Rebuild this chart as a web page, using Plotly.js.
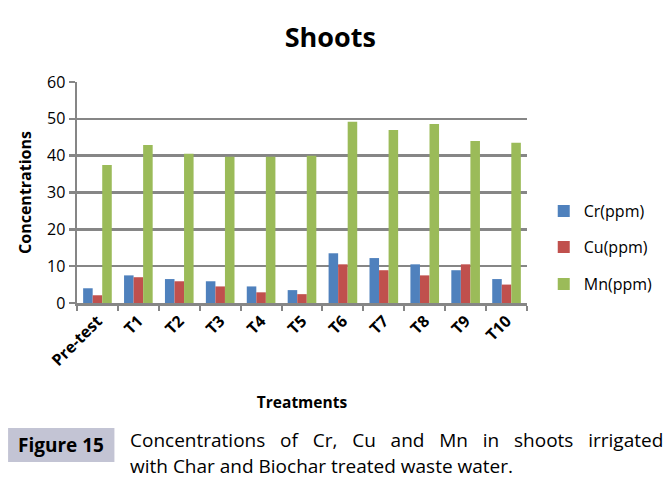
<!DOCTYPE html>
<html>
<head>
<meta charset="utf-8">
<script src="https://cdn.plot.ly/plotly-3.0.1.min.js"></script>
<style>
html,body{margin:0;padding:0;background:#fff;}
#chart{width:670px;height:499px;}
</style>
</head>
<body>
<div id="chart"></div>
<script>
const categories = ["Pre-test","T1","T2","T3","T4","T5","T6","T7","T8","T9","T10"];
const crValues = [4.0, 7.5, 6.5, 5.9, 4.5, 3.5, 13.5, 12.2, 10.5, 8.9, 6.5];
const cuValues = [2.1, 7.0, 5.9, 4.5, 2.9, 2.4, 10.5, 8.9, 7.5, 10.5, 5.0];
const mnValues = [37.5, 42.9, 40.5, 39.7, 39.7, 40.0, 49.2, 47.0, 48.6, 44.0, 43.5];
const seriesNames = ["Cr(ppm)","Cu(ppm)","Mn(ppm)"];
const yTicks = [0,10,20,30,40,50,60];

const font = "Open Sans, DejaVu Sans, sans-serif";
const colors = ["#4f81bd","#c0504d","#9bbb59"];
const vals = [crValues, cuValues, mnValues];
const legendIds = ["legend","legend2","legend3"];
const legendY = [211, 247, 284];

const traces = vals.map((v,i)=>({
  type:"bar", x:categories, y:v, name:seriesNames[i],
  marker:{color:colors[i]}, legend:legendIds[i]
}));

const plotTop = 82, plotH = 221, plotL = 77, plotW = 457;
const py = px => (plotTop + plotH - px) / plotH;
const pxx = px => (px - plotL) / plotW;

const legendFont = {family:font, size:16, color:"#000"};
const layout = {
  width:670, height:499,
  margin:{l:plotL, r:670-plotL-plotW, t:plotTop, b:499-plotTop-plotH},
  paper_bgcolor:"#fff", plot_bgcolor:"#fff",
  barmode:"group", bargap:0.3, bargroupgap:0,
  showlegend:true,
  title:{text:"<b>Shoots</b>", x:0.493, xanchor:"center", y:0.925, yanchor:"middle",
    font:{family:font, size:27, color:"#000"}},
  xaxis:{type:"category", tickangle:-45, showgrid:false, showline:true, linecolor:"#868686", linewidth:2.5,
    ticks:"outside", tickson:"boundaries", ticklen:5, tickcolor:"#868686", tickwidth:2,
    tickfont:{family:font, size:16, color:"#000", weight:"bold"},
    title:{text:"<b>Treatments</b>", font:{family:font, size:15.5, color:"#000"}, standoff:28}},
  yaxis:{range:[0,60], tickvals:yTicks, showgrid:true, gridcolor:"#868686", gridwidth:2.5,
    showline:true, linecolor:"#868686", linewidth:2.5, zeroline:false,
    ticks:"outside", ticklen:6, tickcolor:"#868686", tickwidth:2.5,
    tickfont:{family:font, size:16, color:"#000"},
    title:{text:"<b>Concentrations</b>", font:{family:font, size:16, color:"#000"}, standoff:12}},
  shapes:[{type:"rect", xref:"paper", yref:"paper", x0:pxx(7), x1:pxx(115), y0:py(428), y1:py(462),
    fillcolor:"#c3c4d4", line:{width:0}, layer:"below"}],
  annotations:[
    {xref:"paper", yref:"paper", x:pxx(61), y:py(445), xanchor:"center", yanchor:"middle", showarrow:false,
     text:"<b>Figure 15</b>", font:{family:font, size:19, color:"#000"}},
    {xref:"paper", yref:"paper", x:pxx(129), y:py(440), xanchor:"left", yanchor:"middle", showarrow:false,
     text:"Concentrations   of   Cr,   Cu   and   Mn   in   shoots   irrigated", font:{family:font, size:19, color:"#000"}},
    {xref:"paper", yref:"paper", x:pxx(129), y:py(466), xanchor:"left", yanchor:"middle", showarrow:false,
     text:"with Char and Biochar treated waste water.", font:{family:font, size:19, color:"#000"}}
  ]
};
legendIds.forEach((id,i)=>{
  layout[id] = {x:pxx(551), y:py(legendY[i]), xanchor:"left", yanchor:"middle",
    font:legendFont, bgcolor:"rgba(0,0,0,0)", itemwidth:30};
});

Plotly.newPlot("chart", traces, layout, {displayModeBar:false, staticPlot:true});
</script>
</body>
</html>
